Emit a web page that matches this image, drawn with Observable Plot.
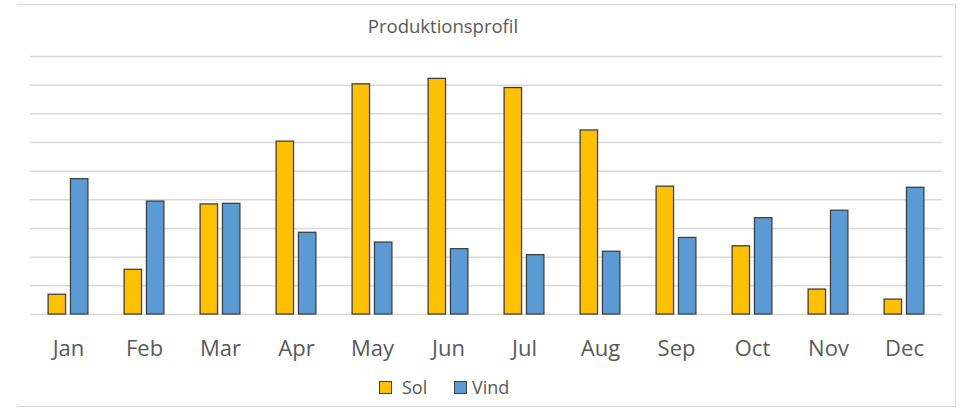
<!DOCTYPE html>
<html>
<head>
<meta charset="utf-8">
<script src="https://cdn.jsdelivr.net/npm/d3@7"></script>
<script src="https://cdn.jsdelivr.net/npm/@observablehq/plot@0.6"></script>
<style>
  html, body { margin: 0; padding: 0; background: #fff; }
  #wrap { position: relative; width: 973px; height: 411px; overflow: hidden; font-family: "Open Sans", sans-serif; color: #595959; }
  #frame { position: absolute; left: 17px; top: 4px; width: 939px; height: 403px; border: 1px solid #d9d9d9; border-left: none; box-sizing: border-box; }
  #title { position: absolute; left: 0; width: 886px; top: 13px; text-align: center; font-size: 18.5px; color: #595959; }
  #chart { position: absolute; left: 0; top: 0; }
  #legend { position: absolute; top: 374px; left: 0; width: 973px; height: 26px; font-size: 18px; color: #595959; }
  .item { position: absolute; top: 0; line-height: 26px; }
  .sw { position: absolute; width: 13px; height: 13px; box-sizing: border-box; border: 1.3px solid #404040; top: 7px; }
</style>
</head>
<body>
<div id="wrap">
  <div id="frame"></div>
  <div id="chart"></div>
  <div id="title">Produktionsprofil</div>
  <div id="legend"></div>
</div>
<script>
const months = ["Jan","Feb","Mar","Apr","May","Jun","Jul","Aug","Sep","Oct","Nov","Dec"];
const series = ["Sol","Vind"];
const sol  = [0.69, 1.56, 3.84, 6.03, 8.03, 8.22, 7.90, 6.42, 4.46, 2.38, 0.87, 0.52];
const vind = [4.72, 3.94, 3.86, 2.85, 2.51, 2.28, 2.07, 2.19, 2.67, 3.36, 3.62, 4.42];
const gridValues = [0, 1, 2, 3, 4, 5, 6, 7, 8, 9];
const colors = ["#FFC000", "#5B9BD5"];

const data = [];
months.forEach((m, i) => {
  data.push({month: m, series: "Sol", value: sol[i]});
  data.push({month: m, series: "Vind", value: vind[i]});
});

const chart = Plot.plot({
  width: 973,
  height: 370,
  marginTop: 56,
  marginBottom: 56,
  marginLeft: 27,
  marginRight: 29,
  style: {fontFamily: "Open Sans", fontSize: "22px", color: "#595959", background: "transparent"},
  fx: {domain: months, padding: 0, axis: "bottom", tickSize: 0, tickPadding: 26, label: null},
  x: {domain: series, axis: null, paddingInner: 0.22, paddingOuter: 0.81, round: false},
  y: {domain: [0, 9], axis: null},
  color: {domain: series, range: colors},
  marks: [
    Plot.ruleY(gridValues, {stroke: "#d9d9d9", strokeWidth: 1.5}),
    Plot.barY(data, {fx: "month", x: "series", y: "value", fill: "series", stroke: "#404040", strokeWidth: 1.3})
  ]
});
document.getElementById("chart").appendChild(chart);

const legend = document.getElementById("legend");
const legendPos = [{sw: 379, tx: 402}, {sw: 454, tx: 472}];
series.forEach((s, i) => {
  const sw = document.createElement("div");
  sw.className = "sw";
  sw.style.left = legendPos[i].sw + "px";
  sw.style.background = colors[i];
  legend.appendChild(sw);
  const t = document.createElement("div");
  t.className = "item";
  t.style.left = legendPos[i].tx + "px";
  t.textContent = s;
  legend.appendChild(t);
});
</script>
</body>
</html>
